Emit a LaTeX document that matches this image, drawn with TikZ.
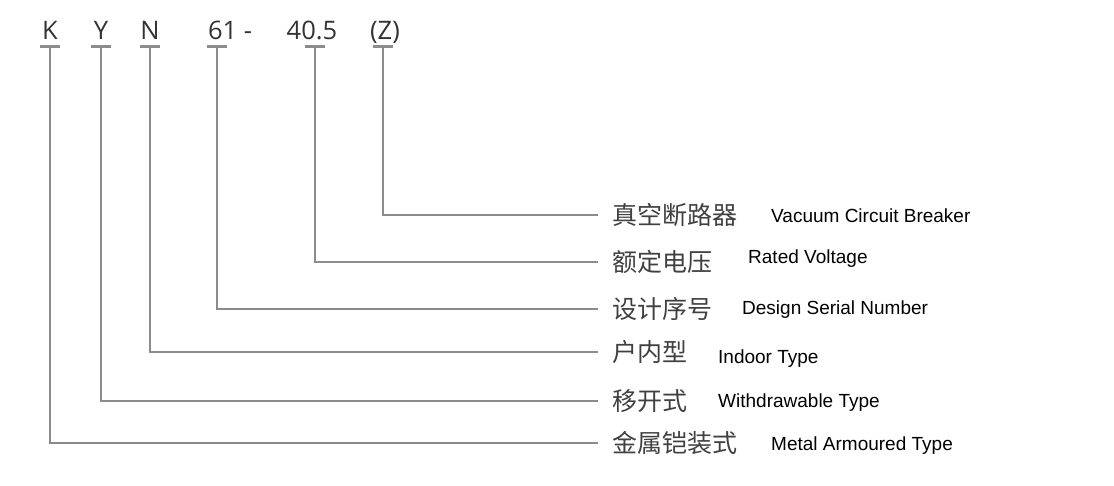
\documentclass[tikz,border=0pt]{standalone}
\usepackage{fontspec}
\setmainfont{Open Sans}
\newfontfamily\cjk{Noto Sans CJK SC}
\newfontfamily\arial{Liberation Sans}
\begin{document}
\begin{tikzpicture}[x=1pt,y=-1pt,
  code/.style={font=\fontsize{25.5}{28}\selectfont, text=black!80, inner sep=0pt, anchor=base},
  bar/.style={draw=black!45, line width=3pt},
  lead/.style={draw=black!45, line width=1.6pt},
  cn/.style={font=\cjk\fontsize{25}{28}\selectfont, text=black!75, anchor=west, inner sep=0pt},
  en/.style={font=\arial\fontsize{19}{22}\selectfont, anchor=west, inner sep=0pt}]
\useasboundingbox (0,0) rectangle (1114,486);
\node[code] (tK) at (50,40) {K};
\node[code] (tY) at (101,40) {Y};
\node[code] (tN) at (150,40) {N};
\node[code] (t61) at (230,40) {61 -};
\node[code] (t40) at (312,40) {40.5};
\node[code] (tZ) at (385,40) {(Z)};
\foreach \n/\x/\y in {K/50/443, Y/101/401, N/150/352, S/217/309, V/315/262, Z/383/215}{
  \coordinate (b\n) at (\x,47);
  \coordinate (c\n) at (\x,\y);
  \coordinate (e\n) at (598,\y);
  \draw[bar] (\x-10,47) -- (\x+10,47);
  \draw[lead] (b\n) -- (c\n) -- (e\n);
}
\node[cn] (cZ) at (612,215) {真空断路器};
\node[cn] (cV) at (612,262) {额定电压};
\node[cn] (cS) at (612,309) {设计序号};
\node[cn] (cN) at (612,352) {户内型};
\node[cn] (cY) at (612,401) {移开式};
\node[cn] (cK) at (612,443) {金属铠装式};
\node[en] at (771,216) {Vacuum Circuit Breaker};
\node[en] at (748,259) {Rated Voltage};
\node[en] at (742,310) {Design Serial Number};
\node[en] at (718,359) {Indoor Type};
\node[en] at (718,403) {Withdrawable Type};
\node[en] at (771,446) {Metal Armoured Type};
\end{tikzpicture}
\end{document}
